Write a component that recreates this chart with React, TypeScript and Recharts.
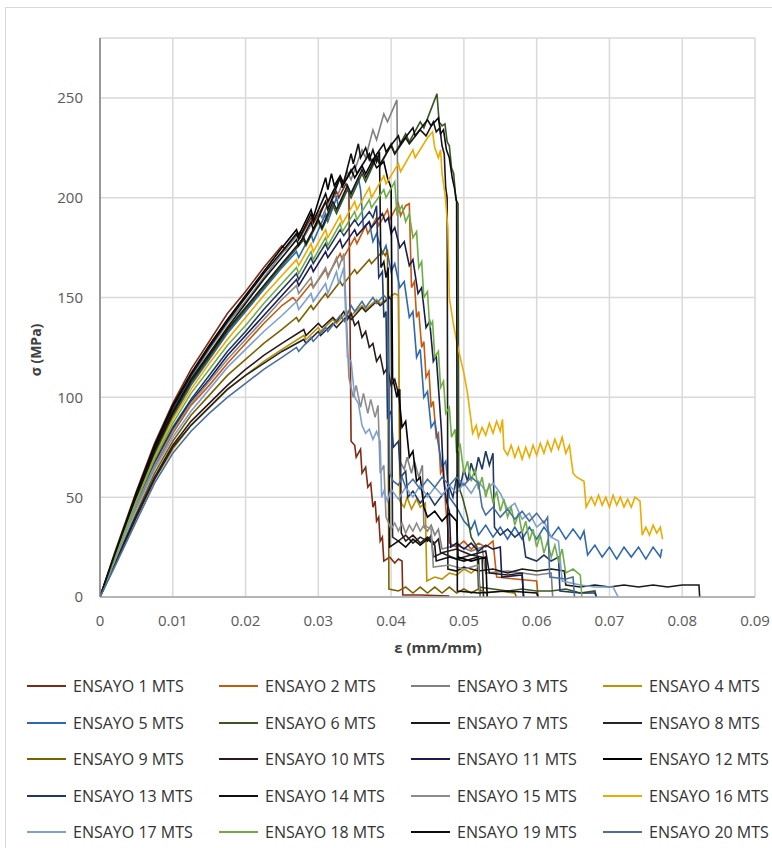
import React from "react";
import { LineChart, Line, XAxis, YAxis, CartesianGrid, Label } from "recharts";

type P = [number, number];

const xTicks = [0, 0.01, 0.02, 0.03, 0.04, 0.05, 0.06, 0.07, 0.08, 0.09];
const xTickLabels = ["0", "0.01", "0.02", "0.03", "0.04", "0.05", "0.06", "0.07", "0.08", "0.09"];
const yTicks = [0, 50, 100, 150, 200, 250];

const seriesNames = [
  "ENSAYO 1 MTS", "ENSAYO 2 MTS", "ENSAYO 3 MTS", "ENSAYO 4 MTS",
  "ENSAYO 5 MTS", "ENSAYO 6 MTS", "ENSAYO 7 MTS", "ENSAYO 8 MTS",
  "ENSAYO 9 MTS", "ENSAYO 10 MTS", "ENSAYO 11 MTS", "ENSAYO 12 MTS",
  "ENSAYO 13 MTS", "ENSAYO 14 MTS", "ENSAYO 15 MTS", "ENSAYO 16 MTS",
  "ENSAYO 17 MTS", "ENSAYO 18 MTS", "ENSAYO 19 MTS", "ENSAYO 20 MTS",
];

const seriesColors = [
  "#7E2B16", "#C55A11", "#808080", "#BF9000",
  "#2E68AE", "#375623", "#1A1A1A", "#262626",
  "#7F6000", "#2B1A1A", "#1B1B4F", "#000000",
  "#203864", "#111111", "#8C8C8C", "#EDAA00",
  "#7DA0D0", "#70AD47", "#0D0D0D", "#4A6F9E",
];

const s1: P[] = [[0,0],[0.002,22],[0.005,53],[0.0075,77],[0.01,97],[0.0125,114],[0.015,128],[0.0175,142],[0.02,153],[0.0225,165],[0.025,176],[0.0255,174],[0.027,182],[0.0275,180],[0.029,190],[0.0293,187],[0.031,198],[0.0313,195],[0.0325,203],[0.0328,200],[0.0338,207],[0.0342,204],[0.0345,78],[0.035,76],[0.0352,70],[0.0358,74],[0.036,62],[0.0365,65],[0.0368,55],[0.0372,57],[0.0375,45],[0.0378,48],[0.038,38],[0.0383,40],[0.0385,28],[0.0388,30],[0.039,18],[0.0398,20],[0.0405,17],[0.041,19],[0.0415,18],[0.0416,1],[0.044,1],[0.048,0.5]];

const s2: P[] = [[0,0],[0.002,18],[0.005,45],[0.0075,65],[0.01,82],[0.0125,96],[0.015,106],[0.0175,117],[0.02,127],[0.0225,137],[0.025,146],[0.0265,150],[0.027,148],[0.029,157],[0.0293,155],[0.031,164],[0.0313,161],[0.033,172],[0.0333,169],[0.035,180],[0.0353,177],[0.0365,186],[0.0368,182],[0.038,190],[0.0383,186],[0.0395,194],[0.0398,189],[0.041,197],[0.0413,191],[0.042,196],[0.0425,197],[0.0428,155],[0.0432,158],[0.0435,140],[0.0438,143],[0.0442,125],[0.0445,128],[0.0448,110],[0.0452,113],[0.0455,95],[0.0458,98],[0.0462,80],[0.0465,82],[0.0468,62],[0.0472,65],[0.0475,45],[0.048,27],[0.049,25],[0.05,28],[0.051,24],[0.052,27],[0.053,25],[0.054,28],[0.0545,10],[0.057,9],[0.06,8],[0.0602,0]];

const s3: P[] = [[0,0],[0.002,21],[0.005,51],[0.0075,74],[0.01,94],[0.0125,110],[0.015,124],[0.0175,137],[0.02,148],[0.0225,160],[0.025,172],[0.0275,183],[0.028,180],[0.03,193],[0.0305,190],[0.032,203],[0.0325,200],[0.034,213],[0.0345,209],[0.036,224],[0.0365,220],[0.0375,234],[0.038,229],[0.039,242],[0.0395,238],[0.0408,249],[0.0412,68],[0.0418,64],[0.0422,70],[0.0428,62],[0.0432,68],[0.0438,60],[0.0443,66],[0.0445,35],[0.045,33],[0.0455,36],[0.046,31],[0.0465,34],[0.047,24],[0.049,26],[0.051,23],[0.0525,25],[0.053,12],[0.056,13],[0.06,11],[0.062,12],[0.0622,0]];

const s4: P[] = [[0,0],[0.002,16],[0.005,40],[0.0075,59],[0.01,74],[0.0125,86],[0.015,95],[0.0175,104],[0.02,111],[0.0225,118],[0.025,124],[0.028,131],[0.0283,129],[0.03,135],[0.0303,133],[0.032,139],[0.0325,137],[0.034,143],[0.0345,141],[0.036,146],[0.0365,144],[0.038,149],[0.0385,147],[0.0405,152],[0.041,151],[0.0412,48],[0.0418,45],[0.0422,50],[0.0428,44],[0.0435,49],[0.044,45],[0.0447,47],[0.0449,8],[0.046,10],[0.047,9],[0.048,12],[0.049,11],[0.05,14],[0.051,12],[0.052,15],[0.0522,0]];

const s5: P[] = [[0,0],[0.002,20],[0.005,49],[0.0075,71],[0.01,90],[0.0125,106],[0.015,119],[0.0175,132],[0.02,143],[0.0225,154],[0.025,165],[0.027,173],[0.0273,170],[0.029,182],[0.0293,178],[0.031,192],[0.0313,188],[0.0325,200],[0.0328,195],[0.034,206],[0.0343,201],[0.0355,210],[0.0358,204],[0.0362,185],[0.037,188],[0.0375,178],[0.038,182],[0.0388,172],[0.0393,176],[0.04,163],[0.0405,167],[0.0412,155],[0.0418,158],[0.0425,140],[0.043,143],[0.0435,120],[0.044,124],[0.0445,100],[0.045,103],[0.0455,85],[0.046,88],[0.047,65],[0.0475,68],[0.048,50],[0.049,45],[0.05,38],[0.051,34],[0.0515,38],[0.052,31],[0.053,36],[0.054,30],[0.055,35],[0.056,29],[0.057,35],[0.058,29],[0.059,35],[0.06,29],[0.061,35],[0.062,30],[0.063,35],[0.064,29],[0.065,34],[0.066,29],[0.0665,33],[0.067,21],[0.068,26],[0.069,20],[0.07,25],[0.071,19],[0.072,25],[0.073,20],[0.074,25],[0.075,19],[0.076,25],[0.077,20],[0.0772,24]];

const s6: P[] = [[0,0],[0.002,20],[0.005,50],[0.0075,72],[0.01,91],[0.0125,107],[0.015,120],[0.0175,133],[0.02,144],[0.0225,155],[0.025,166],[0.028,179],[0.0283,176],[0.03,188],[0.0305,184],[0.032,196],[0.0325,192],[0.034,204],[0.0345,200],[0.036,212],[0.0365,208],[0.038,220],[0.0385,216],[0.04,227],[0.0405,222],[0.042,232],[0.0425,228],[0.044,238],[0.0445,235],[0.0463,252],[0.0466,238],[0.047,236],[0.0474,237],[0.0477,228],[0.048,226],[0.0483,215],[0.0486,212],[0.0489,199],[0.0492,197],[0.0493,55],[0.0498,50],[0.0505,40],[0.051,30],[0.0518,25],[0.052,5],[0.054,4],[0.056,3],[0.058,4],[0.06,3],[0.062,3],[0.064,4],[0.066,2],[0.068,3],[0.0682,0]];

const s7: P[] = [[0,0],[0.002,20],[0.005,50],[0.0075,73],[0.01,92],[0.0125,108],[0.015,121],[0.0175,134],[0.02,145],[0.0225,156],[0.025,167],[0.028,180],[0.0283,177],[0.03,189],[0.0305,185],[0.032,198],[0.0325,194],[0.034,206],[0.0345,202],[0.036,214],[0.0365,210],[0.038,221],[0.0385,217],[0.04,226],[0.0405,222],[0.042,230],[0.0425,227],[0.044,234],[0.0448,231],[0.0458,238],[0.0462,233],[0.0467,235],[0.047,226],[0.0473,222],[0.0475,205],[0.0477,200],[0.0478,14],[0.049,13],[0.05,15],[0.052,13],[0.054,14],[0.056,12],[0.058,14],[0.06,13],[0.062,14],[0.0638,13],[0.064,6],[0.066,5],[0.068,6],[0.07,5],[0.072,6],[0.074,5],[0.076,6],[0.078,5],[0.08,6],[0.0823,6],[0.0824,0]];

const s8: P[] = [[0,0],[0.002,16],[0.005,40],[0.0075,59],[0.01,75],[0.0125,86],[0.015,95],[0.0175,104],[0.02,111],[0.0225,117],[0.025,123],[0.028,129],[0.0283,127],[0.03,133],[0.0303,131],[0.032,137],[0.0325,135],[0.034,141],[0.0345,139],[0.036,145],[0.0365,143],[0.038,148],[0.0385,146],[0.0398,150],[0.04,149],[0.0402,30],[0.041,28],[0.042,31],[0.043,27],[0.044,30],[0.045,28],[0.0455,31],[0.0458,20],[0.047,22],[0.049,19],[0.051,21],[0.0525,20],[0.0527,0]];

const s9: P[] = [[0,0],[0.002,17],[0.005,42],[0.0075,62],[0.01,78],[0.0125,91],[0.015,101],[0.0175,111],[0.02,119],[0.0225,127],[0.025,134],[0.027,140],[0.0273,138],[0.029,146],[0.0293,144],[0.031,152],[0.0313,150],[0.033,158],[0.0333,156],[0.035,164],[0.0353,162],[0.037,169],[0.0373,167],[0.0388,173],[0.0392,171],[0.0395,174],[0.0397,4],[0.041,3],[0.042,5],[0.043,2],[0.044,5],[0.045,2],[0.046,5],[0.047,2],[0.048,5],[0.049,2],[0.05,4],[0.051,2],[0.052,4],[0.053,2],[0.055,3],[0.057,2],[0.0572,0]];

const s10: P[] = [[0,0],[0.002,17],[0.005,41],[0.0075,60],[0.01,76],[0.0125,88],[0.015,97],[0.0175,106],[0.02,114],[0.0225,121],[0.025,127],[0.028,134],[0.0283,131],[0.03,137],[0.0305,135],[0.032,140],[0.0325,138],[0.0335,143],[0.034,139],[0.0345,142],[0.035,136],[0.0355,138],[0.036,130],[0.0365,133],[0.037,125],[0.0375,127],[0.038,118],[0.0385,121],[0.039,112],[0.0395,115],[0.04,106],[0.0405,109],[0.041,102],[0.0412,104],[0.0414,32],[0.042,28],[0.043,31],[0.044,27],[0.045,30],[0.046,27],[0.0465,29],[0.0468,22],[0.049,24],[0.051,21],[0.053,23],[0.0535,12],[0.056,11],[0.058,12],[0.0582,0]];

const s11: P[] = [[0,0],[0.002,18],[0.005,46],[0.0075,67],[0.01,84],[0.0125,98],[0.015,109],[0.0175,121],[0.02,131],[0.0225,141],[0.025,151],[0.027,159],[0.0273,156],[0.029,166],[0.0293,163],[0.031,173],[0.0313,170],[0.033,179],[0.0333,175],[0.035,184],[0.0353,181],[0.037,188],[0.0373,185],[0.0388,192],[0.0392,188],[0.0396,190],[0.04,182],[0.0405,185],[0.0412,175],[0.0418,178],[0.0425,166],[0.043,169],[0.0437,152],[0.0442,155],[0.0448,135],[0.0453,138],[0.0458,118],[0.0462,121],[0.0466,100],[0.0469,84],[0.0472,60],[0.0476,48],[0.048,43],[0.0482,25],[0.049,27],[0.05,24],[0.051,27],[0.052,23],[0.053,26],[0.054,24],[0.055,25],[0.0552,10],[0.058,11],[0.0582,0]];

const s12: P[] = [[0,0],[0.002,21],[0.005,52],[0.0075,76],[0.01,96],[0.0125,112],[0.015,126],[0.0175,139],[0.02,151],[0.0225,163],[0.025,175],[0.027,184],[0.0273,181],[0.029,194],[0.0293,190],[0.031,210],[0.0313,204],[0.0318,212],[0.0322,206],[0.033,211],[0.0335,207],[0.0345,214],[0.035,210],[0.036,216],[0.0365,212],[0.0375,219],[0.038,215],[0.039,218],[0.0395,210],[0.04,205],[0.0402,110],[0.0408,100],[0.041,104],[0.0415,85],[0.042,88],[0.0425,70],[0.043,73],[0.0435,58],[0.044,60],[0.0445,45],[0.045,40],[0.046,43],[0.047,38],[0.048,42],[0.049,38],[0.0492,20],[0.051,18],[0.053,20],[0.0532,0]];

const s13: P[] = [[0,0],[0.002,19],[0.005,47],[0.0075,68],[0.01,85],[0.0125,99],[0.015,111],[0.0175,123],[0.02,133],[0.0225,144],[0.025,154],[0.027,162],[0.0273,159],[0.029,170],[0.0293,167],[0.031,177],[0.0313,174],[0.033,184],[0.0335,181],[0.035,189],[0.0355,186],[0.037,193],[0.0375,190],[0.038,196],[0.0383,160],[0.0388,163],[0.039,140],[0.0393,143],[0.0395,90],[0.04,93],[0.0403,75],[0.041,78],[0.0413,60],[0.042,63],[0.0423,50],[0.043,53],[0.044,47],[0.045,52],[0.046,46],[0.047,51],[0.048,55],[0.0485,50],[0.049,60],[0.0495,55],[0.05,64],[0.0505,58],[0.051,67],[0.0515,61],[0.052,70],[0.0525,64],[0.053,73],[0.0535,66],[0.054,72],[0.0542,35],[0.055,31],[0.056,34],[0.057,30],[0.058,33],[0.0585,20],[0.06,18],[0.061,21],[0.062,18],[0.063,20],[0.0632,3],[0.066,2],[0.068,2],[0.0682,0]];

const s14: P[] = [[0,0],[0.002,20],[0.005,51],[0.0075,74],[0.01,93],[0.0125,109],[0.015,122],[0.0175,135],[0.02,147],[0.0225,159],[0.025,170],[0.027,179],[0.0273,176],[0.029,188],[0.0293,184],[0.031,198],[0.0313,194],[0.033,210],[0.0333,205],[0.0345,222],[0.0348,217],[0.0355,227],[0.0358,220],[0.0365,225],[0.037,219],[0.0375,224],[0.038,218],[0.0384,223],[0.0386,165],[0.039,168],[0.0393,160],[0.0396,165],[0.0398,25],[0.041,28],[0.042,25],[0.043,29],[0.044,26],[0.045,29],[0.046,26],[0.0462,18],[0.048,20],[0.05,18],[0.052,20],[0.0522,0]];

const s15: P[] = [[0,0],[0.002,18],[0.005,46],[0.0075,66],[0.01,83],[0.0125,97],[0.015,108],[0.0175,119],[0.02,129],[0.0225,139],[0.025,149],[0.027,156],[0.0273,152],[0.029,160],[0.0293,155],[0.031,165],[0.0313,160],[0.0325,170],[0.0328,165],[0.0335,172],[0.0342,110],[0.0348,100],[0.0352,106],[0.0358,95],[0.0362,102],[0.0368,92],[0.0372,99],[0.0378,90],[0.0382,96],[0.0385,62],[0.039,66],[0.0393,40],[0.04,34],[0.0405,37],[0.041,33],[0.0415,37],[0.042,32],[0.0425,36],[0.043,33],[0.0435,37],[0.044,33],[0.0445,36],[0.0455,34],[0.0458,15],[0.048,16],[0.05,14],[0.052,16],[0.0522,0]];

const s16: P[] = [[0,0],[0.002,19],[0.005,48],[0.0075,70],[0.01,89],[0.0125,104],[0.015,117],[0.0175,129],[0.02,140],[0.0225,151],[0.025,161],[0.027,169],[0.0273,166],[0.029,177],[0.0293,173],[0.031,184],[0.0313,180],[0.033,191],[0.0333,187],[0.035,198],[0.0353,194],[0.037,205],[0.0373,200],[0.039,211],[0.0393,207],[0.041,217],[0.0413,213],[0.043,224],[0.0433,220],[0.045,230],[0.0457,233],[0.046,225],[0.0465,220],[0.0468,224],[0.047,212],[0.0474,202],[0.0478,185],[0.048,150],[0.0485,138],[0.049,128],[0.0495,120],[0.05,112],[0.0505,102],[0.051,88],[0.0512,82],[0.0517,86],[0.052,80],[0.0525,85],[0.053,81],[0.0535,87],[0.054,82],[0.0545,88],[0.055,83],[0.0553,89],[0.0555,74],[0.056,71],[0.0565,76],[0.057,70],[0.0575,75],[0.058,69],[0.0585,75],[0.059,70],[0.0595,76],[0.06,71],[0.0605,77],[0.061,72],[0.0615,78],[0.062,73],[0.0625,79],[0.063,74],[0.0635,80],[0.064,72],[0.0645,76],[0.065,62],[0.0655,60],[0.0665,58],[0.0668,45],[0.0675,50],[0.068,46],[0.0685,51],[0.069,46],[0.0695,50],[0.07,45],[0.0705,51],[0.071,46],[0.0715,50],[0.072,45],[0.0725,49],[0.073,45],[0.0735,50],[0.0742,48],[0.0745,31],[0.075,35],[0.0755,31],[0.076,36],[0.0765,32],[0.077,35],[0.0773,29]];

const s17: P[] = [[0,0],[0.002,18],[0.005,44],[0.0075,64],[0.01,80],[0.0125,93],[0.015,104],[0.0175,115],[0.02,124],[0.0225,133],[0.025,141],[0.027,148],[0.0273,144],[0.029,152],[0.0293,148],[0.031,157],[0.0313,152],[0.0325,163],[0.0328,157],[0.0335,165],[0.034,120],[0.0345,118],[0.035,100],[0.0355,97],[0.036,86],[0.0365,82],[0.037,84],[0.0375,79],[0.038,83],[0.0385,78],[0.0387,50],[0.039,53],[0.0395,48],[0.04,54],[0.041,49],[0.042,55],[0.043,50],[0.044,56],[0.045,50],[0.046,55],[0.047,51],[0.048,56],[0.049,52],[0.05,57],[0.051,52],[0.052,58],[0.053,53],[0.054,57],[0.055,52],[0.056,44],[0.057,47],[0.058,39],[0.059,42],[0.06,35],[0.061,38],[0.062,30],[0.063,28],[0.0635,8],[0.066,6],[0.068,5],[0.0705,5],[0.0712,0]];

const s18: P[] = [[0,0],[0.002,19],[0.005,48],[0.0075,69],[0.01,87],[0.0125,102],[0.015,114],[0.0175,126],[0.02,136],[0.0225,147],[0.025,157],[0.027,165],[0.0273,162],[0.029,173],[0.0293,169],[0.031,180],[0.0313,176],[0.033,187],[0.0333,183],[0.035,193],[0.0353,189],[0.037,199],[0.0373,195],[0.039,204],[0.0393,200],[0.0405,208],[0.0408,192],[0.0415,196],[0.042,188],[0.0425,192],[0.043,180],[0.0435,183],[0.0438,165],[0.0442,168],[0.0445,150],[0.045,153],[0.0453,135],[0.0457,138],[0.046,120],[0.0465,123],[0.0468,105],[0.0472,108],[0.0475,92],[0.048,95],[0.0483,80],[0.0488,84],[0.049,72],[0.0495,76],[0.05,62],[0.0505,68],[0.051,58],[0.0515,64],[0.052,54],[0.0525,60],[0.053,50],[0.0535,57],[0.054,47],[0.0545,53],[0.055,43],[0.0555,49],[0.056,40],[0.0565,45],[0.057,36],[0.0575,42],[0.058,32],[0.0585,38],[0.059,28],[0.0595,34],[0.06,25],[0.0605,31],[0.061,22],[0.0615,28],[0.062,20],[0.0625,26],[0.063,18],[0.0635,24],[0.064,12],[0.065,14],[0.066,11],[0.0662,0]];

const s19: P[] = [[0,0],[0.002,21],[0.005,52],[0.0075,75],[0.01,95],[0.0125,111],[0.015,125],[0.0175,138],[0.02,150],[0.0225,162],[0.025,173],[0.027,182],[0.0273,179],[0.029,192],[0.0293,188],[0.031,202],[0.0313,198],[0.033,210],[0.0333,206],[0.035,216],[0.0353,212],[0.037,222],[0.0373,218],[0.039,227],[0.0393,223],[0.041,231],[0.0413,227],[0.043,235],[0.0433,231],[0.045,239],[0.0455,236],[0.0465,240],[0.0468,232],[0.0472,234],[0.0476,224],[0.048,220],[0.0484,210],[0.0487,205],[0.049,198],[0.0491,3],[0.052,2],[0.056,3],[0.06,2],[0.0602,0]];

const s20: P[] = [[0,0],[0.002,15],[0.005,38],[0.0075,57],[0.01,72],[0.0125,83],[0.015,92],[0.0175,100],[0.02,107],[0.0225,114],[0.025,120],[0.027,125],[0.0273,123],[0.029,130],[0.0293,128],[0.031,135],[0.0313,133],[0.033,141],[0.0336,138],[0.0345,146],[0.035,143],[0.036,148],[0.0365,145],[0.0375,150],[0.038,147],[0.039,151],[0.0395,149],[0.0398,62],[0.0403,58],[0.041,56],[0.0415,60],[0.042,55],[0.043,59],[0.044,54],[0.045,59],[0.046,55],[0.047,60],[0.048,56],[0.049,60],[0.05,56],[0.051,60],[0.052,57],[0.0525,45],[0.053,41],[0.054,45],[0.055,40],[0.056,44],[0.057,39],[0.058,43],[0.059,38],[0.06,42],[0.061,37],[0.0615,40],[0.0618,10],[0.064,9],[0.065,10],[0.0652,0]];

const seriesData: P[][] = [s1, s2, s3, s4, s5, s6, s7, s8, s9, s10, s11, s12, s13, s14, s15, s16, s17, s18, s19, s20];

const series = seriesNames.map((name, i) => ({
  name,
  color: seriesColors[i],
  data: seriesData[i].map(([x, y]) => ({ x, y })),
}));

const FONT = "'Open Sans', 'Liberation Sans', sans-serif";

export default function App() {
  return (
    <div style={{ position: "absolute", left: 0, top: 0, width: 772, height: 848, overflow: "hidden", background: "#fff", fontFamily: FONT }}>
      <div style={{ position: "absolute", left: 5, top: 7, width: 800, height: 900, border: "1px solid #d9d9d9", boxSizing: "border-box" }} />
      <div style={{ position: "absolute", left: 0, top: 0 }}>
        <LineChart width={772} height={848} margin={{ top: 38, right: 17, left: 40, bottom: 221 }}>
          <CartesianGrid stroke="#d9d9d9" strokeWidth={1.5} />
          <XAxis
            type="number"
            dataKey="x"
            domain={[0, 0.09]}
            ticks={xTicks}
            tickFormatter={(v: number) => xTickLabels[xTicks.indexOf(v)] ?? String(v)}
            allowDataOverflow
            height={30}
            tickLine={false}
            tickMargin={12}
            axisLine={{ stroke: "#a6a6a6", strokeWidth: 1.5 }}
            tick={{ fill: "#595959", fontSize: 15, fontFamily: FONT }}
          >
            <Label
              content={() => (
                <text x={438} y={653} textAnchor="middle" fontSize={15} fontWeight="bold" fill="#404040" fontFamily={FONT}>
                  ε (mm/mm)
                </text>
              )}
            />
          </XAxis>
          <YAxis
            type="number"
            dataKey="y"
            domain={[0, 280]}
            ticks={yTicks}
            allowDataOverflow
            width={60}
            tickLine={false}
            tickMargin={11}
            axisLine={{ stroke: "#7f7f7f", strokeWidth: 1.5 }}
            tick={{ fill: "#595959", fontSize: 15, fontFamily: FONT }}
          >
            <Label
              content={() => (
                <text x={41} y={350} transform="rotate(-90 41 350)" textAnchor="middle" fontSize={14} fontWeight="bold" fill="#404040" fontFamily={FONT}>
                  σ (MPa)
                </text>
              )}
            />
          </YAxis>
          {series.map((s) => (
            <Line
              key={s.name}
              data={s.data}
              dataKey="y"
              name={s.name}
              type="linear"
              stroke={s.color}
              strokeWidth={1.6}
              dot={false}
              activeDot={false}
              isAnimationActive={false}
            />
          ))}
        </LineChart>
      </div>
      {series.map((s, i) => {
        const col = i % 4;
        const row = Math.floor(i / 4);
        const left = 27 + col * 192;
        const top = 686 + row * 36.5;
        return (
          <div key={s.name} style={{ position: "absolute", left, top: top - 11, height: 22, display: "flex", alignItems: "center", whiteSpace: "nowrap" }}>
            <svg width={40} height={22} style={{ display: "block" }}>
              <line x1={0} y1={11} x2={39} y2={11} stroke={s.color} strokeWidth={2} />
            </svg>
            <span style={{ marginLeft: 6, fontSize: 16, color: "#333", fontFamily: FONT }}>{s.name}</span>
          </div>
        );
      })}
    </div>
  );
}
